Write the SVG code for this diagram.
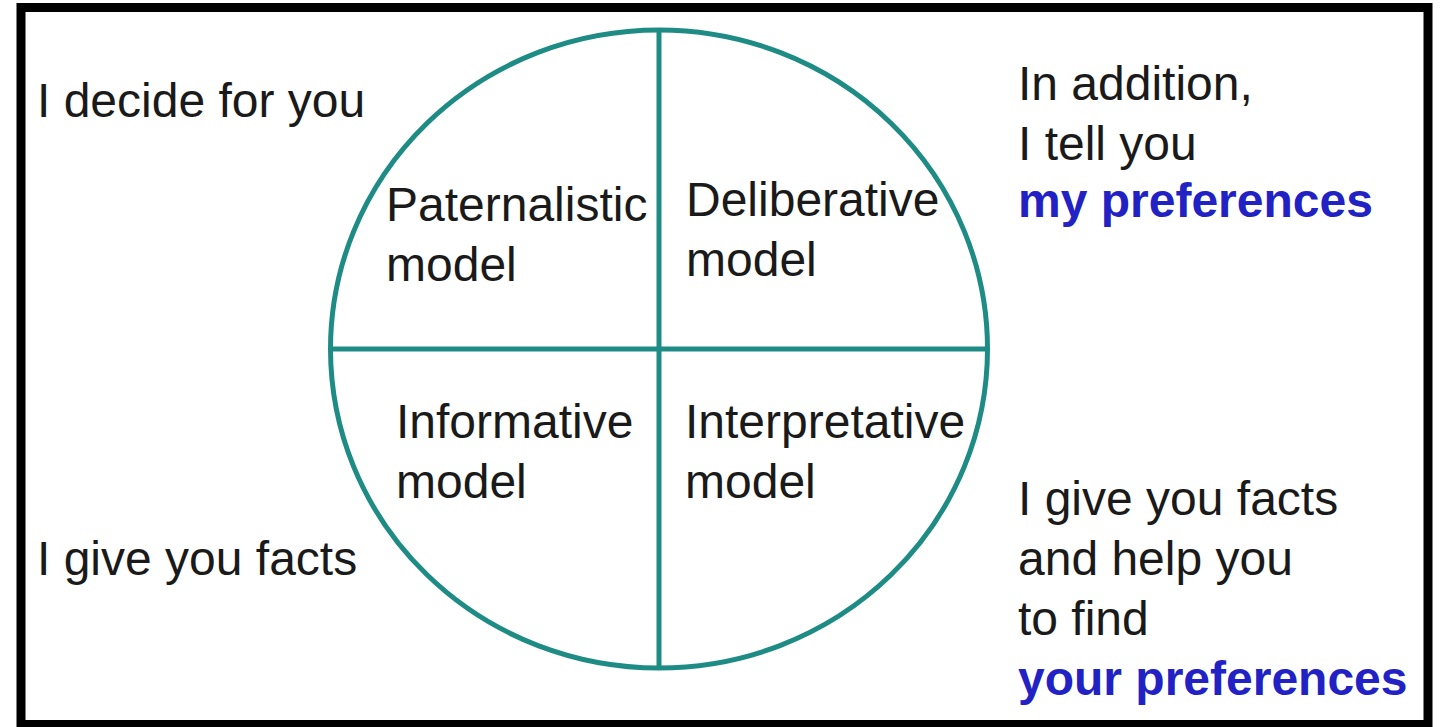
<svg xmlns="http://www.w3.org/2000/svg" width="1443" height="727" viewBox="0 0 1443 727">
  <style>
    .t { font-family: "Liberation Sans", Arial, sans-serif; font-size: 48px; fill: #1a1a1a; }
    .hl { font-weight: bold; fill: #2222c4; }
    .ring { fill: none; stroke: #1e8c84; stroke-width: 5; }
  </style>
  <rect x="0" y="0" width="1443" height="727" fill="#ffffff"/>
  <!-- outer frame -->
  <rect x="21" y="7.5" width="1407" height="717" fill="none" stroke="#000000" stroke-width="9"/>

  <!-- quadrant circle -->
  <g id="connectors">
    <ellipse class="ring" cx="659" cy="349" rx="328.5" ry="319"/>
    <line class="ring" x1="659" y1="30" x2="659" y2="668"/>
    <line class="ring" x1="330.5" y1="349" x2="987.5" y2="349"/>
  </g>

  <g id="paternalistic">
    <text class="t" x="386" y="221">Paternalistic</text>
    <text class="t" x="386" y="281">model</text>
  </g>
  <g id="deliberative">
    <text class="t" x="686" y="216">Deliberative</text>
    <text class="t" x="686" y="276">model</text>
  </g>
  <g id="informative">
    <text class="t" x="396" y="438">Informative</text>
    <text class="t" x="396" y="498">model</text>
  </g>
  <g id="interpretative">
    <text class="t" x="685" y="438">Interpretative</text>
    <text class="t" x="685" y="498">model</text>
  </g>

  <g id="decide">
    <text class="t" x="37" y="117">I decide for you</text>
  </g>
  <g id="facts">
    <text class="t" x="37" y="575">I give you facts</text>
  </g>
  <g id="tell-preferences">
    <text class="t" x="1018" y="100">In addition,</text>
    <text class="t" x="1018" y="160">I tell you</text>
    <text class="t hl" x="1018" y="217">my preferences</text>
  </g>
  <g id="find-preferences">
    <text class="t" x="1018" y="515">I give you facts</text>
    <text class="t" x="1018" y="575">and help you</text>
    <text class="t" x="1018" y="635">to find</text>
    <text class="t hl" x="1018" y="695">your preferences</text>
  </g>
</svg>
